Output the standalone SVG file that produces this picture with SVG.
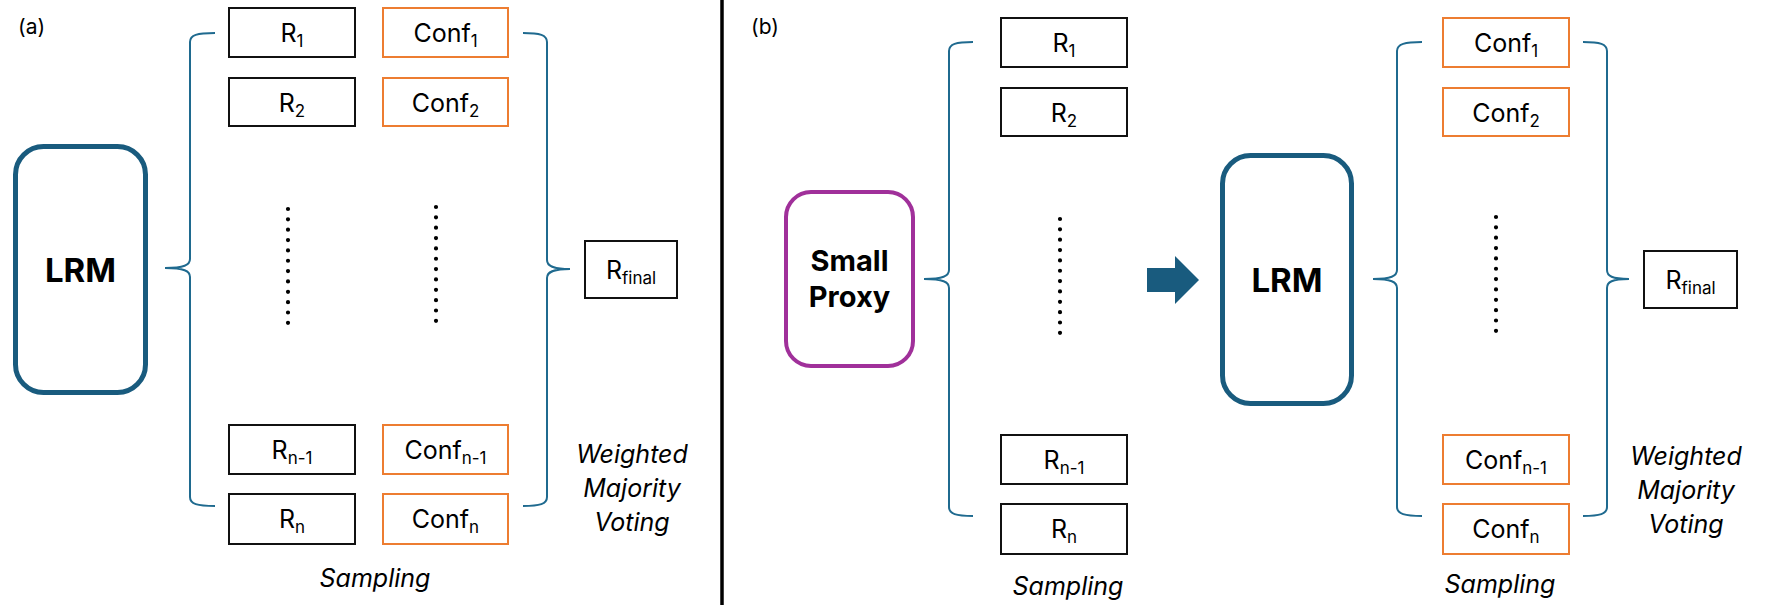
<svg xmlns="http://www.w3.org/2000/svg" width="1776" height="605" viewBox="0 0 1776 605">
<style>
text{font-family:Inter,"Liberation Sans",sans-serif;fill:#000}
.lbl{font-size:25px;text-anchor:middle}
.sub{font-size:17px}
.box{fill:#fff;stroke:#111;stroke-width:2}
.cbox{fill:#fff;stroke:#ed7d31;stroke-width:2}
.lrm{fill:#fff;stroke:#195b7e;stroke-width:5}
.proxy{fill:#fff;stroke:#a0309a;stroke-width:4}
.big{font-size:33px;font-weight:700;text-anchor:middle}
.it{font-size:25px;font-style:italic;text-anchor:middle}
.brace{fill:none;stroke:#1f6a8f;stroke-width:2}
.dots{stroke:#000;stroke-width:4.2;stroke-linecap:round;stroke-dasharray:0 10.35;fill:none}
.tag{font-size:21px}
</style>
<rect width="1776" height="605" fill="#fff"/>
<line x1="722" y1="0" x2="722" y2="605" stroke="#000" stroke-width="3.5"/>
<text class="tag" x="18" y="34">(a)</text>
<text class="tag" x="751" y="34">(b)</text>

<g id="a-lrm"><rect class="lrm" x="15.5" y="146.5" width="130" height="246" rx="28"/><text class="big" x="80.5" y="282">LRM</text></g>
<g id="a-r1"><rect class="box" x="229" y="8" width="126" height="49"/><text class="lbl" x="292" y="42">R<tspan class="sub" dy="5">1</tspan></text></g>
<g id="a-r2"><rect class="box" x="229" y="78" width="126" height="48"/><text class="lbl" x="292" y="112">R<tspan class="sub" dy="5">2</tspan></text></g>
<g id="a-rn1"><rect class="box" x="229" y="425" width="126" height="49"/><text class="lbl" x="292" y="459">R<tspan class="sub" dy="5">n-1</tspan></text></g>
<g id="a-rn"><rect class="box" x="229" y="494" width="126" height="50"/><text class="lbl" x="292" y="528">R<tspan class="sub" dy="5">n</tspan></text></g>
<g id="a-c1"><rect class="cbox" x="383" y="8" width="125" height="49"/><text class="lbl" x="445.5" y="42">Conf<tspan class="sub" dy="5">1</tspan></text></g>
<g id="a-c2"><rect class="cbox" x="383" y="78" width="125" height="48"/><text class="lbl" x="445.5" y="112">Conf<tspan class="sub" dy="5">2</tspan></text></g>
<g id="a-cn1"><rect class="cbox" x="383" y="425" width="125" height="49"/><text class="lbl" x="445.5" y="459">Conf<tspan class="sub" dy="5">n-1</tspan></text></g>
<g id="a-cn"><rect class="cbox" x="383" y="494" width="125" height="50"/><text class="lbl" x="445.5" y="528">Conf<tspan class="sub" dy="5">n</tspan></text></g>
<g id="a-rfinal"><rect class="box" x="585" y="241" width="92" height="57"/><text class="lbl" x="631" y="279">R<tspan class="sub" dy="5">final</tspan></text></g>
<text class="it" x="375" y="587">Sampling</text>
<text class="it" x="632" y="463">Weighted</text>
<text class="it" x="632" y="497">Majority</text>
<text class="it" x="632" y="531">Voting</text>

<g id="b-proxy"><rect class="proxy" x="786" y="192" width="127" height="174" rx="25"/><text class="big" style="font-size:29px" x="849.5" y="271">Small</text><text class="big" style="font-size:29px" x="849.5" y="307">Proxy</text></g>
<g id="b-r1"><rect class="box" x="1001" y="18" width="126" height="49"/><text class="lbl" x="1064" y="52">R<tspan class="sub" dy="5">1</tspan></text></g>
<g id="b-r2"><rect class="box" x="1001" y="88" width="126" height="48"/><text class="lbl" x="1064" y="122">R<tspan class="sub" dy="5">2</tspan></text></g>
<g id="b-rn1"><rect class="box" x="1001" y="435" width="126" height="49"/><text class="lbl" x="1064" y="469">R<tspan class="sub" dy="5">n-1</tspan></text></g>
<g id="b-rn"><rect class="box" x="1001" y="504" width="126" height="50"/><text class="lbl" x="1064" y="538">R<tspan class="sub" dy="5">n</tspan></text></g>
<g id="b-lrm"><rect class="lrm" x="1222.5" y="155.5" width="129" height="248" rx="28"/><text class="big" x="1287" y="292">LRM</text></g>
<g id="b-c1"><rect class="cbox" x="1443" y="18" width="126" height="49"/><text class="lbl" x="1506" y="52">Conf<tspan class="sub" dy="5">1</tspan></text></g>
<g id="b-c2"><rect class="cbox" x="1443" y="88" width="126" height="48"/><text class="lbl" x="1506" y="122">Conf<tspan class="sub" dy="5">2</tspan></text></g>
<g id="b-cn1"><rect class="cbox" x="1443" y="435" width="126" height="49"/><text class="lbl" x="1506" y="469">Conf<tspan class="sub" dy="5">n-1</tspan></text></g>
<g id="b-cn"><rect class="cbox" x="1443" y="504" width="126" height="50"/><text class="lbl" x="1506" y="538">Conf<tspan class="sub" dy="5">n</tspan></text></g>
<g id="b-rfinal"><rect class="box" x="1644" y="251" width="93" height="57"/><text class="lbl" x="1690.5" y="289">R<tspan class="sub" dy="5">final</tspan></text></g>
<text class="it" x="1068" y="595">Sampling</text>
<text class="it" x="1500" y="593">Sampling</text>
<text class="it" x="1686" y="465">Weighted</text>
<text class="it" x="1686" y="499">Majority</text>
<text class="it" x="1686" y="533">Voting</text>

<g id="ellipses">
<line class="dots" x1="288" y1="209" x2="288" y2="324"/>
<line class="dots" x1="436" y1="207" x2="436" y2="322"/>
<line class="dots" x1="1060" y1="219" x2="1060" y2="334"/>
<line class="dots" x1="1496" y1="217" x2="1496" y2="332"/>
</g>

<g id="connectors">
<path class="brace" d="M215,33 C197,33 190,35 190,42 L190,259 C190,265 184,268 165,268 C184,268 190,271 190,277 L190,497 C190,504 197,506 215,506"/>
<path class="brace" d="M523,33 C540,33 547,35 547,42 L547,260 C547,266 553,269 570,269 C553,269 547,272 547,278 L547,497 C547,504 540,506 523,506"/>
<path class="brace" d="M973,42 C956,42 949,44 949,51 L949,270 C949,276 943,279 924,279 C943,279 949,282 949,288 L949,507 C949,514 956,516 973,516"/>
<path class="brace" d="M1422,42 C1405,42 1397,44 1397,51 L1397,270 C1397,276 1391,279 1373,279 C1391,279 1397,282 1397,288 L1397,507 C1397,514 1405,516 1422,516"/>
<path class="brace" d="M1583,42 C1600,42 1607,44 1607,51 L1607,270 C1607,276 1612,279 1629,279 C1612,279 1607,282 1607,288 L1607,507 C1607,514 1600,516 1583,516"/>
<path fill="#195b7e" d="M1147,268 L1175,268 L1175,256 L1199,280 L1175,304 L1175,292 L1147,292 Z"/>
</g>
</svg>
